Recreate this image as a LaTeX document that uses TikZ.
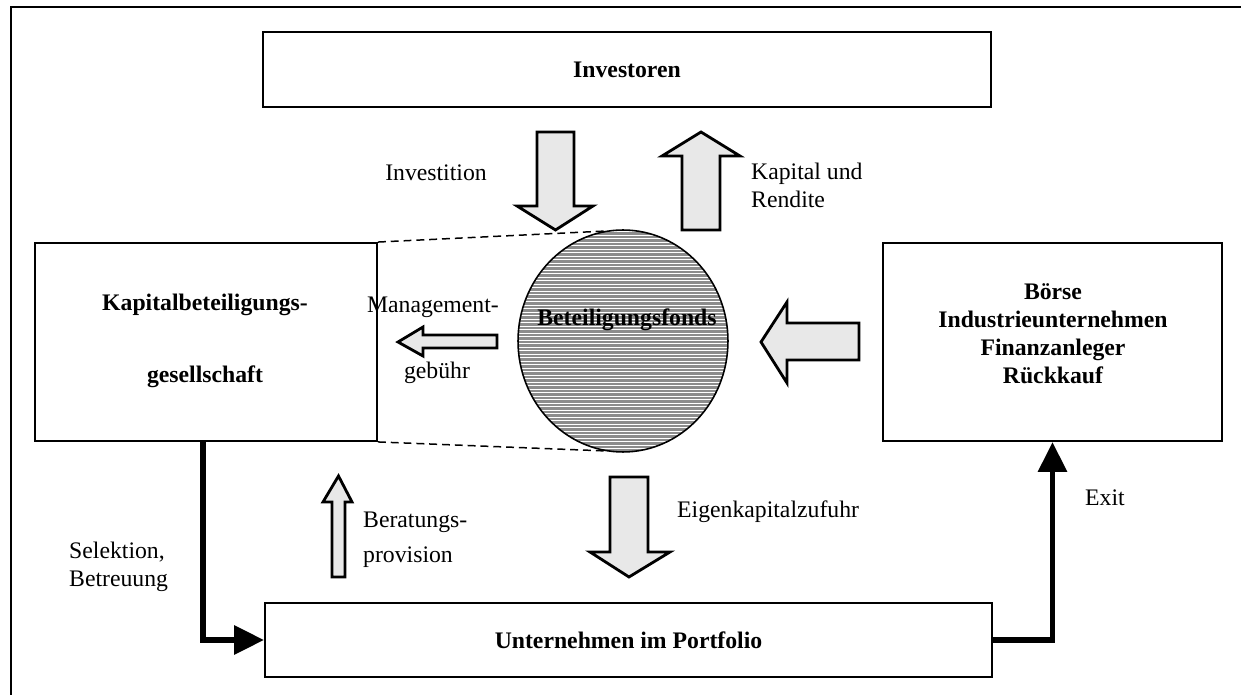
\documentclass[tikz,border=0pt]{standalone}
\usepackage{fontspec}
\setmainfont{Liberation Serif}
\usetikzlibrary{arrows.meta,calc,shapes.geometric}
\usetikzlibrary{positioning}
\definecolor{hatchgray}{gray}{0.55}

\begin{document}
\begin{tikzpicture}[x=0.02cm,y=-0.02cm,line join=miter,font=\fontsize{13.5}{16}\selectfont,
  box/.style={draw,line width=1.1pt,inner sep=0pt,font=\fontsize{13.5}{16}\selectfont\bfseries},
  blk/.style={draw,line width=1.6pt,fill=gray!18},
  flow/.style={line width=3.4pt,-{Triangle[length=0.6cm,width=0.56cm]}},
  lnk/.style={line width=0.85pt,dash pattern=on 4.5pt off 2.8pt}]
\useasboundingbox (0,0) rectangle (1241,695);
% frame
\draw[line width=1.4pt] (11,695) -- (11,7) -- (1241,7);
% boxes
\node[box,minimum width=14.56cm,minimum height=1.5cm] (inv) at (627,69.5) {Investoren};
\node[box,minimum width=6.84cm,minimum height=3.96cm] (kbg) at (206,342) {};
\node[box,minimum width=6.78cm,minimum height=3.96cm] (boerse) at (1052.5,342) {};
\node[box,minimum width=14.54cm,minimum height=1.48cm] (port) at (628.5,640) {Unternehmen im Portfolio};
\node[font=\fontsize{13.5}{16}\selectfont\bfseries,align=center] (kbgtxt) at (205,341) {Kapitalbeteiligungs-\\[25pt]gesellschaft};
\node[font=\fontsize{13.5}{16}\selectfont\bfseries,align=center] (boersetxt) at (1053,334) {Börse\\Industrieunternehmen\\Finanzanleger\\Rückkauf};
% fund (hatched)
\begin{scope}
  \clip (623,341) ellipse [x radius=105, y radius=111];
  \fill[hatchgray] (510,225) rectangle (740,460);
  \foreach \y in {231.5,235,...,452}
    \draw[white,line width=0.4pt] (510,\y) -- (740,\y);
\end{scope}
\node[ellipse,draw,line width=0.9pt,inner sep=0pt,minimum width=4.2cm,minimum height=4.44cm] (fonds) at (623,341) {};
\node[font=\fontsize{13.5}{16}\selectfont\bfseries] (fondstxt) at (627,320) {Beteiligungsfonds};
\draw[lnk] (kbg.north east) -- (fonds.100);
\draw[lnk] (kbg.south east) -- (fonds.260);
% block arrows
\draw[blk] (537,132) -- (574,132) -- (574,206) -- (593,206) -- (555.5,230) -- (517,206) -- (537,206) -- cycle;
\draw[blk] (682,230) -- (720,230) -- (720,156) -- (740,156) -- (701,132) -- (662,156) -- (682,156) -- cycle;
\draw[blk] (497,335) -- (423,335) -- (423,327) -- (398,342) -- (423,356) -- (423,348) -- (497,348) -- cycle;
\draw[blk] (859,323) -- (787,323) -- (787,302) -- (761,342) -- (787,383) -- (787,360) -- (859,360) -- cycle;
\draw[blk] (610,477) -- (648,477) -- (648,552) -- (670,552) -- (629,577) -- (590,552) -- (610,552) -- cycle;
\draw[blk] (332,577) -- (345,577) -- (345,502) -- (352,502) -- (338.5,476) -- (323,502) -- (332,502) -- cycle;
% labels
\node (invtxt) at (436,173) {Investition};
\node[anchor=west,align=left] (kaptxt) at (745,185) {Kapital und\\Rendite};
\node[anchor=east] (mgmt) at (505,307) {Management-};
\node (gebtxt) at (437,373) {gebühr};
\node[anchor=west] (eigtxt) at (671,512) {Eigenkapitalzufuhr};
\node[anchor=west,align=left] (bertxt) at (357,540) {Beratungs-\\[4pt]provision};
\node[anchor=west,align=left] (seltxt) at (63,567) {Selektion,\\Betreuung};
\node (exittxt) at (1105,498) {Exit};
% connectors
\coordinate (selc) at (203,441);
\draw[flow] (selc) |- (port.west);
\draw[flow] (port.east) -| (boerse.south);
\end{tikzpicture}
\end{document}
